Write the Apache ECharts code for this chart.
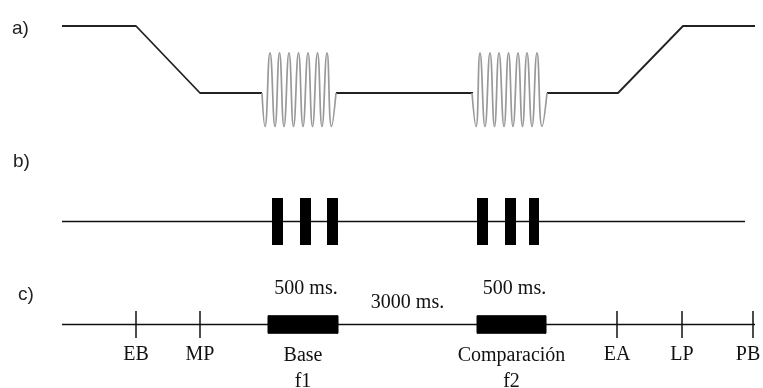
<!DOCTYPE html>
<html>
<head>
<meta charset="utf-8">
<script src="https://cdn.jsdelivr.net/npm/echarts@6/dist/echarts.min.js"></script>
<style>
  html, body { margin: 0; padding: 0; background: #fff; }
  #chart { width: 763px; height: 388px; }
</style>
</head>
<body>
<div id="chart"></div>
<script>
// Horizontal values are schematic positions along the trial (not drawn to scale in ms).

// a) key/probe trace: 1 = resting up, 0 = pressed down
const traceSegments = [
  [[62, 1], [136, 1], [200, 0], [262, 0]],
  [[336, 0], [473, 0]],
  [[547, 0], [618, 0], [683, 1], [755, 1]]
];
// vibration bursts: turning points of each stimulus oscillation
const burstF1 = [
  [262, 0], [265, -0.5], [270, 0.6], [275, -0.5], [279.5, 0.6], [284, -0.5], [289, 0.6],
  [293.5, -0.5], [298.5, 0.6], [303, -0.5], [308, 0.6], [312.5, -0.5], [317.5, 0.6],
  [322, -0.5], [327, 0.6], [331.5, -0.5], [336, 0]
];
const burstF2 = [
  [472, 0], [476, -0.5], [480, 0.6], [485, -0.5], [490, 0.6], [494.5, -0.5], [499, 0.6],
  [504, -0.5], [508.5, 0.6], [513, -0.5], [518, 0.6], [522.5, -0.5], [527, 0.6],
  [532, -0.5], [537, 0.6], [542, -0.5], [547, 0]
];

// b) stimulus pulses
const pulseLine = [[62, 0], [745, 0]];
const pulsesF1 = [[272, 283], [300, 311], [327, 338]];
const pulsesF2 = [[477, 488], [505, 516], [529, 539]];

// c) trial events and stimulus periods
const timeline = [[62, 0], [755, 0]];
const eventNames = ['EB', 'MP', 'EA', 'LP', 'PB'];
const eventPos = [136, 200, 617, 682, 753];
const stimNames = ['Base\nf1', 'Comparación\nf2'];
const stimStart = [268, 477];
const stimEnd = [338, 546];
const stimDuration = ['500 ms.', '500 ms.'];
const delayLabel = '3000 ms.';

const panelLabels = ['a)', 'b)', 'c)'];

const serif = '20px "Liberation Serif"';
const ink = '#111';

const chart = echarts.init(document.getElementById('chart'));

const xAxes = [0, 1, 2].map(i => ({ type: 'value', gridIndex: i, min: 0, max: 763, show: false }));
const yAxes = [0, 1, 2].map(i => ({ type: 'value', gridIndex: i, min: -1, max: 1, show: false }));

const series = [];

// panel a
traceSegments.forEach(seg => series.push({
  type: 'line', xAxisIndex: 0, yAxisIndex: 0, data: seg, symbol: 'none', clip: false,
  lineStyle: { color: '#222', width: 1.8 }
}));
[burstF1, burstF2].forEach(b => series.push({
  type: 'line', xAxisIndex: 0, yAxisIndex: 0, data: b, symbol: 'none', clip: false,
  smooth: 0.5, lineStyle: { color: '#999', width: 1.7 }
}));

// panel b
series.push({
  type: 'line', xAxisIndex: 1, yAxisIndex: 1, data: pulseLine, symbol: 'none', clip: false,
  z: 1, lineStyle: { color: ink, width: 1.5 }
});
series.push({
  type: 'custom', xAxisIndex: 1, yAxisIndex: 1, z: 5,
  data: pulsesF1.concat(pulsesF2),
  encode: { x: [0, 1] },
  renderItem(params, api) {
    const a = api.coord([api.value(0), 1]);
    const b = api.coord([api.value(1), -1]);
    return { type: 'rect', shape: { x: a[0], y: a[1], width: b[0] - a[0], height: b[1] - a[1] },
      style: { fill: '#000' } };
  }
});

// panel c
series.push({
  type: 'line', xAxisIndex: 2, yAxisIndex: 2, data: timeline, symbol: 'none', clip: false,
  z: 1, lineStyle: { color: ink, width: 1.6 }
});
series.push({
  type: 'custom', xAxisIndex: 2, yAxisIndex: 2, z: 5,
  data: eventPos.map(x => [x]),
  encode: { x: 0 },
  renderItem(params, api) {
    const x = api.value(0);
    const top = api.coord([x, 1]);
    const bot = api.coord([x, -1]);
    // keep the last label inside the canvas edge
    const rightEdge = params.coordSys.x + params.coordSys.width;
    const lx = Math.min(bot[0], rightEdge - 15);
    return { type: 'group', children: [
      { type: 'line', shape: { x1: top[0], y1: top[1], x2: bot[0], y2: bot[1] },
        style: { stroke: ink, lineWidth: 1.5 } },
      { type: 'text', x: lx, y: bot[1] + 17,
        style: { text: eventNames[params.dataIndex], font: serif, fill: ink, align: 'center', verticalAlign: 'middle' } }
    ] };
  }
});
series.push({
  type: 'custom', xAxisIndex: 2, yAxisIndex: 2, z: 5,
  data: stimStart.map((s, i) => [s, stimEnd[i]]),
  encode: { x: [0, 1] },
  renderItem(params, api) {
    const i = params.dataIndex;
    const a = api.coord([api.value(0), 0.65]);
    const b = api.coord([api.value(1), -0.65]);
    const cx = (a[0] + b[0]) / 2;
    return { type: 'group', children: [
      { type: 'rect', shape: { x: a[0], y: a[1], width: b[0] - a[0], height: b[1] - a[1] },
        style: { fill: '#000', stroke: '#000', lineWidth: 1 } },
      { type: 'text', x: cx + 3, y: a[1] - 27,
        style: { text: stimDuration[i], font: serif, fill: ink, align: 'center', verticalAlign: 'middle' } },
      { type: 'text', x: cx, y: b[1] + 9,
        style: { text: stimNames[i], font: serif, lineHeight: 26, fill: ink, align: 'center', verticalAlign: 'top' } }
    ] };
  }
});
series.push({
  type: 'custom', xAxisIndex: 2, yAxisIndex: 2, z: 5,
  data: [[stimEnd[0], stimStart[1]]],
  encode: { x: [0, 1] },
  renderItem(params, api) {
    const a = api.coord([api.value(0), 0]);
    const b = api.coord([api.value(1), 0]);
    return { type: 'text', x: (a[0] + b[0]) / 2, y: a[1] - 22,
      style: { text: delayLabel, font: serif, fill: ink, align: 'center', verticalAlign: 'middle' } };
  }
});

const labelAnchors = [[12, 29], [13, 162], [18, 295]];

chart.setOption({
  animation: false,
  backgroundColor: '#fff',
  grid: [
    { left: 0, right: 0, top: 26, height: 134 },
    { left: 0, right: 0, top: 198, height: 47 },
    { left: 0, right: 0, top: 311, height: 27 }
  ],
  xAxis: xAxes,
  yAxis: yAxes,
  series: series,
  graphic: panelLabels.map((t, i) => ({
    type: 'text', x: labelAnchors[i][0], y: labelAnchors[i][1],
    style: { text: t, font: '19px "Liberation Sans"', fill: '#222', verticalAlign: 'middle' }
  }))
});
</script>
</body>
</html>
